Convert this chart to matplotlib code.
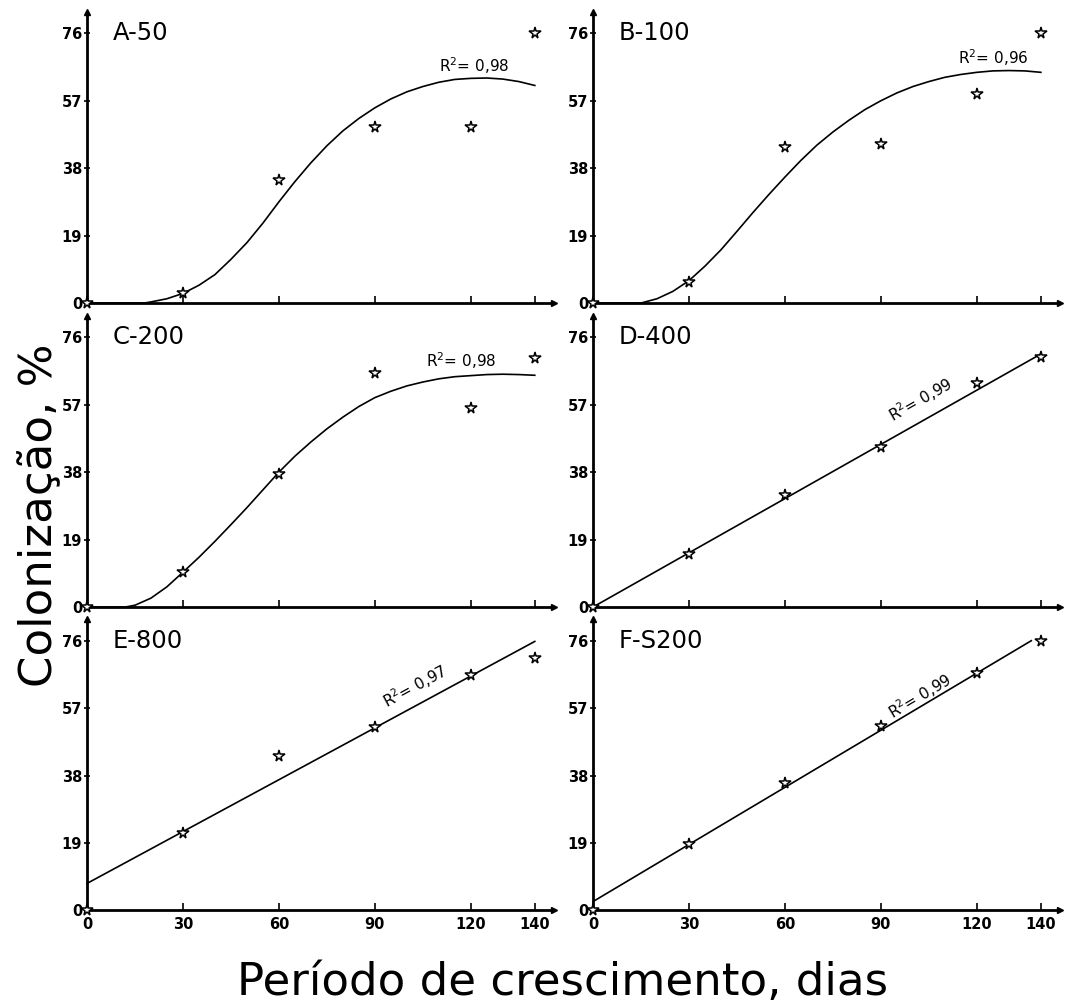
import matplotlib
matplotlib.use("Agg")
import matplotlib.pyplot as plt
import numpy as np

plt.rcParams['font.family'] = ['DejaVu Sans']

# observed points (days, colonization %)
days = [0, 30, 60, 90, 120, 140]
obs_a = [0, 2.7, 34.7, 49.5, 49.7, 76.1]
obs_b = [0, 6.0, 43.9, 44.9, 58.9, 76.2]
obs_c = [0, 9.8, 37.5, 66.0, 56.2, 70.1]
obs_d = [0, 14.8, 31.7, 45.2, 63.0, 70.4]
obs_e = [0, 21.7, 43.4, 51.6, 66.4, 71.2]
obs_f = [0, 18.7, 35.9, 51.9, 66.8, 75.8]

# fitted curves
fit_a_x = [0, 10, 18, 20, 25, 30, 35, 40, 45, 50, 55, 60, 65, 70, 75, 80, 85, 90,
           95, 100, 105, 110, 115, 120, 125, 130, 135, 140]
fit_a_y = [0, 0, 0, 0.3, 1.2, 2.7, 5, 8, 12.3, 17, 22.5, 28.5, 34.2, 39.5, 44.3,
           48.5, 52, 55, 57.5, 59.5, 61, 62.2, 63, 63.3, 63.4, 63.1, 62.4, 61.3]
fit_b_x = [0, 15, 20, 25, 30, 35, 40, 45, 50, 55, 60, 65, 70, 75, 80, 85, 90,
           95, 100, 105, 110, 115, 120, 125, 130, 135, 140]
fit_b_y = [0, 0, 1.2, 3.3, 6.3, 10.4, 15, 20.2, 25.5, 30.6, 35.5, 40.2, 44.5,
           48.2, 51.5, 54.5, 57, 59.2, 61, 62.4, 63.6, 64.4, 65, 65.4, 65.5, 65.4, 65]
fit_c_x = [0, 12, 15, 20, 25, 30, 35, 40, 45, 50, 55, 60, 65, 70, 75, 80, 85, 90,
           95, 100, 105, 110, 115, 120, 125, 130, 135, 140]
fit_c_y = [0, 0, 0.5, 2.5, 5.7, 9.8, 14, 18.5, 23.2, 28, 33, 38, 42.5, 46.5,
           50.2, 53.5, 56.5, 59, 60.8, 62.3, 63.4, 64.3, 64.9, 65.2, 65.5, 65.6,
           65.5, 65.3]
fit_d_x = [0, 140]
fit_d_y = [0, 71.3]
fit_e_x = [0, 140]
fit_e_y = [7.6, 75.8]
fit_f_x = [0, 137]
fit_f_y = [2.5, 76.0]

labels = ['A-50', 'B-100', 'C-200', 'D-400', 'E-800', 'F-S200']
r2_text = ['0,98', '0,96', '0,98', '0,99', '0,97', '0,99']
r2_pos = [(121, 67), (125, 69), (117, 69.5), (104, 56), (104, 60.5), (104, 58)]

yticks = [0, 19, 38, 57, 76]
xticks = [0, 30, 60, 90, 120, 140]

panels = [
    (obs_a, fit_a_x, fit_a_y, False),
    (obs_b, fit_b_x, fit_b_y, False),
    (obs_c, fit_c_x, fit_c_y, False),
    (obs_d, fit_d_x, fit_d_y, True),
    (obs_e, fit_e_x, fit_e_y, True),
    (obs_f, fit_f_x, fit_f_y, True),
]

fig = plt.figure(figsize=(10.67, 10.08), dpi=100)

lefts = [0.0815, 0.5558]
bottoms = [0.6994, 0.3978, 0.0968]
w, h = 0.4377, 0.2887

for i, (obs, fx, fy, straight) in enumerate(panels):
    ax = fig.add_axes([lefts[i % 2], bottoms[i // 2], w, h])
    ax.set_xlim(0, 146)
    ax.set_ylim(0, 82)
    for s in ['top', 'right']:
        ax.spines[s].set_visible(False)
    for s in ['left', 'bottom']:
        ax.spines[s].set_linewidth(2)
    # arrow heads
    ax.plot(1, 0, '>', color='black', ms=5, transform=ax.transAxes, clip_on=False)
    ax.plot(0, 1, '^', color='black', ms=5, transform=ax.transAxes, clip_on=False)

    ax.plot(fx, fy, color='black', lw=1.2, clip_on=False)
    ax.plot(days, obs, linestyle='none', marker='*', ms=8.5, mfc='white',
            mec='black', mew=1.1, clip_on=False, zorder=5)

    ax.set_xticks(xticks)
    ax.set_yticks(yticks)
    ax.tick_params(axis='x', direction='in', length=5, width=1.2, pad=5,
                   labelsize=10.5, labelbottom=(i >= 4))
    ax.tick_params(axis='y', direction='inout', length=5, width=1.2, pad=1,
                   labelsize=10.5)
    for lab in ax.get_xticklabels() + ax.get_yticklabels():
        lab.set_fontweight('bold')

    ax.text(8, 76, labels[i], fontsize=17.5, va='center', ha='left')

    tx, ty = r2_pos[i]
    if straight:
        slope = (fy[1] - fy[0]) / (fx[1] - fx[0])
        ang = np.degrees(np.arctan(slope))
        ax.text(tx, ty, 'R$^2$= ' + r2_text[i], fontsize=11, ha='center',
                va='bottom', rotation=ang, rotation_mode='anchor',
                transform_rotates_text=True)
    else:
        ax.text(tx, ty, 'R$^2$= ' + r2_text[i], fontsize=11, ha='center',
                va='center')

fig.text(0.527, 0.025, 'Período de crescimento, dias', fontsize=32.5,
         ha='center', va='center')
fig.text(0.037, 0.489, 'Colonização, %', fontsize=32.5, ha='center',
         va='center', rotation=90)

fig.savefig('out.png', dpi=100)
